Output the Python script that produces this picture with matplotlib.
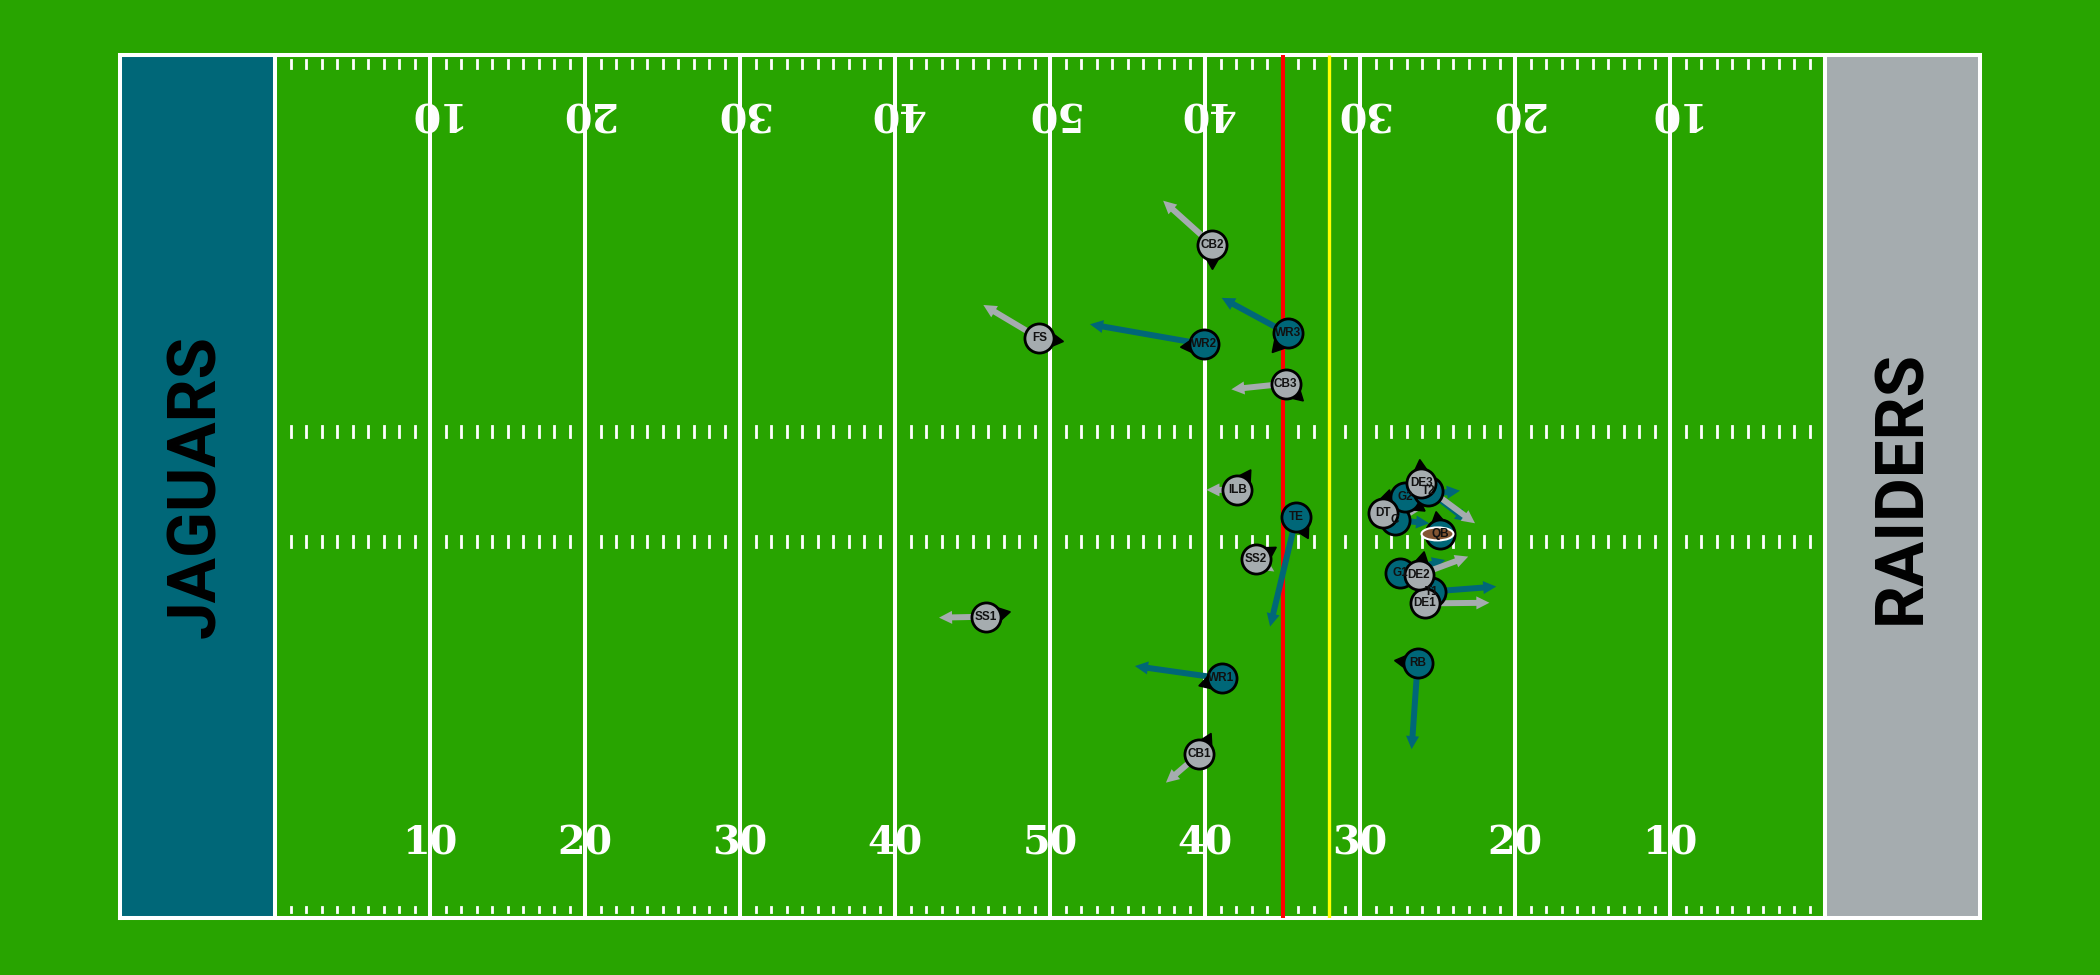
import matplotlib
matplotlib.use("Agg")
import matplotlib.pyplot as plt
import matplotlib.patches as patches
from matplotlib.patches import ArrowStyle
from matplotlib.transforms import ScaledTranslation
import numpy as np

# ---------------- data ----------------
home_team = "JAGUARS"
away_team = "RAIDERS"
home_color = "#006778"
away_color = "#A5ACAF"
field_color = "#28a400"

los_x = 75.0
first_down_x = 78.0

yard_line_pos = [20, 30, 40, 50, 60, 70, 80, 90, 100]
yard_numbers = ["10", "20", "30", "40", "50", "40", "30", "20", "10"]

off_labels = ["QB", "RB", "WR1", "WR2", "WR3", "TE", "T1", "G1", "C", "G2", "T2"]
off_x = [85.16, 83.72, 71.07, 69.95, 75.33, 75.90, 84.60, 82.60, 82.26, 82.90, 84.40]
off_y = [23.70, 15.73, 14.80, 35.43, 36.10, 24.79, 20.16, 21.33, 24.58, 26.00, 26.40]
off_dx = [0.00, -0.39, -5.59, -7.37, -4.25, -1.70, 4.19, 2.90, 2.20, 3.55, 2.59]
off_dy = [0.00, -5.30, 0.76, 1.24, 2.20, -6.79, 0.31, 0.78, -0.20, 0.39, -1.92]
off_o = [100, 173, 197, 185, -131, -62, 120, 10, 150, -35, 120]

def_labels = ["CB1", "CB2", "CB3", "FS", "SS1", "SS2", "ILB", "DT", "DE1", "DE2", "DE3"]
def_x = [69.63, 70.47, 75.20, 59.31, 55.87, 73.27, 72.09, 81.46, 84.20, 83.80, 83.94]
def_y = [10.13, 41.57, 33.00, 35.80, 18.61, 22.15, 26.44, 25.04, 19.43, 21.19, 26.85]
def_dx = [-2.15, -3.17, -3.50, -3.61, -3.03, 1.20, -2.00, 2.58, 4.15, 3.18, 3.48]
def_dy = [-1.77, 2.73, -0.35, 2.06, -0.06, -0.75, 0.00, 0.27, 0.04, 1.13, -2.47]
def_o = [63, -90, -43, -7, 12, 32, 57, 75, 90, 78, 95]

ball_x, ball_y = 85.0, 23.72

# ---------------- figure ----------------
W, H = 2100, 975
fig = plt.figure(figsize=(W / 100, H / 100), dpi=100, facecolor=field_color)
ax = fig.add_axes([120 / W, 1 - 918 / H, 1860 / W, 863 / H])
ax.set_xlim(0, 120)
ax.set_ylim(0, 53.3)
ax.set_axis_off()
ax.set_facecolor(field_color)

ax.add_patch(patches.Rectangle((0, 0), 120, 53.3, facecolor=field_color, edgecolor="none", zorder=0))
ax.add_patch(patches.Rectangle((0, 0), 10, 53.3, facecolor=home_color, edgecolor="none", zorder=1))
ax.add_patch(patches.Rectangle((110, 0), 10, 53.3, facecolor=away_color, edgecolor="none", zorder=1))

lw_line = 2.9
for x in range(10, 111, 10):
    ax.plot([x, x], [0, 53.3], color="white", lw=lw_line, zorder=2, solid_capstyle="butt")
ax.plot([0, 120, 120, 0, 0], [0, 0, 53.3, 53.3, 0], color="white", lw=lw_line, zorder=2,
        solid_joinstyle="miter", clip_on=False)

for x in range(11, 110):
    for (y0, y1) in [(0.4, 0.7), (52.5, 53.0), (22.91, 23.57), (29.73, 30.39)]:
        ax.plot([x, x], [y0, y1], color="white", lw=2.0, zorder=2)

num_font = dict(family="DejaVu Serif", weight="bold", size=28.5, color="white")
for x, lab in zip(yard_line_pos, yard_numbers):
    ax.text(x, 3.95, lab, ha="center", va="baseline", rotation_mode="anchor", zorder=1.5, **num_font)
    ax.text(x + 0.1, 50.45, lab, ha="center", va="baseline", rotation=180,
            rotation_mode="anchor", zorder=1.5, **num_font)

team_font = dict(family="Roboto", weight="bold", size=48.5, color="black")
ax.text(5, 26.65, home_team, ha="center", va="center", rotation=90, zorder=3, **team_font)
ax.text(115, 26.65, away_team, ha="center", va="center", rotation=90, zorder=3, **team_font)

ax.plot([los_x, los_x], [0, 53.3], color="red", lw=2.9, zorder=3, solid_capstyle="butt")
ax.plot([first_down_x, first_down_x], [0, 53.3], color="yellow", lw=2.4, zorder=3, solid_capstyle="butt")

arrow_style = ArrowStyle.Simple(head_length=9.4, head_width=9.4, tail_width=4.3)


def draw_team(xs, ys, dxs, dys, os_, color, z):
    for x, y, dx, dy in zip(xs, ys, dxs, dys):
        if dx == 0 and dy == 0:
            continue
        ax.annotate("", xy=(x + dx, y + dy), xytext=(x, y), xycoords="data",
                    arrowprops=dict(arrowstyle=arrow_style, color=color, lw=0,
                                    shrinkA=0, shrinkB=0, mutation_scale=1),
                    zorder=4 + z * 0.1, annotation_clip=False)
    r = 0.16
    for x, y, o in zip(xs, ys, os_):
        th = np.deg2rad(o)
        tr = ax.transData + ScaledTranslation(r * np.cos(th), r * np.sin(th), fig.dpi_scale_trans)
        ax.plot([x], [y], marker=(3, 0, o - 90), ms=11.5, color="black", ls="none",
                transform=tr, zorder=5)
    ax.scatter(xs, ys, s=440, c=color, edgecolors="black", linewidths=2.0, zorder=6 + z)


draw_team(off_x, off_y, off_dx, off_dy, off_o, home_color, 0)
draw_team(def_x, def_y, def_dx, def_dy, def_o, away_color, 1)

ax.add_patch(patches.Ellipse((ball_x, ball_y), 2.06, 0.8, facecolor="#825532",
                             edgecolor="white", lw=1.5, zorder=8))

for xs, ys, labels in [(off_x, off_y, off_labels), (def_x, def_y, def_labels)]:
    for x, y, lab in zip(xs, ys, labels):
        ax.text(x, y, lab, ha="center", va="center", fontsize=8.5, family="Liberation Sans",
                weight="bold", color="#111111", zorder=9)

fig.savefig("out.png", dpi=100, facecolor=field_color)
